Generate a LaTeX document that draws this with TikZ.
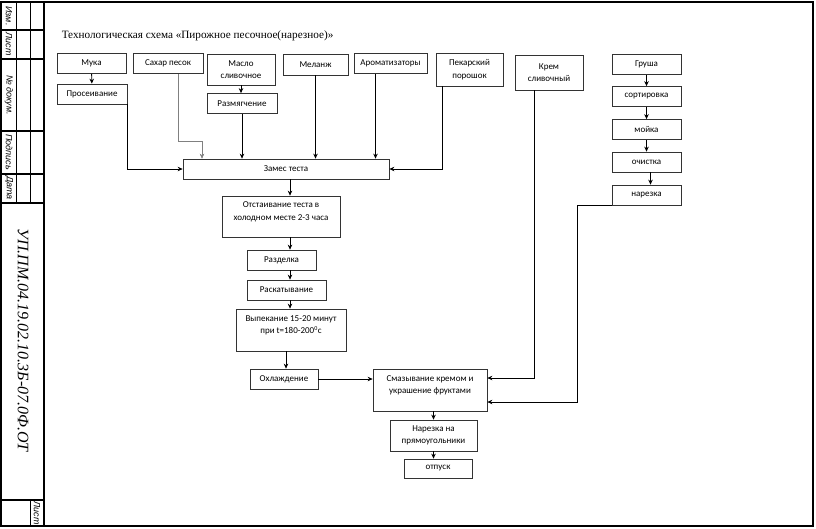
\documentclass[tikz,border=0pt]{standalone}
\usepackage{fontspec}
\setmainfont{Liberation Serif}
\newfontfamily\boxfont{Carlito}
\newfontfamily\framefont{Liberation Sans}
\usetikzlibrary{arrows.meta, calc}

\begin{document}
\begin{tikzpicture}[x=1pt, y=-1pt, ->, >={Stealth[length=5pt, width=4.5pt]}, line width=0.9pt, font=\boxfont\fontsize{9}{12.5}\selectfont]
    \tikzstyle{block}=[draw=black!80, line width=0.7pt, rectangle, align=center, inner sep=1pt, minimum width=69, minimum height=20]
    \tikzstyle{frame}=[draw=black, line width=1.6pt]
    \tikzstyle{cell}=[rotate=-90, font=\framefont\itshape\fontsize{9}{10}\selectfont]

    \useasboundingbox (0,0) rectangle (816,528);

    % frame and side strip
    \draw[-, frame] (1,2) rectangle (813,526);
    \draw[-, frame] (44,2) -- (44,526);
    \draw[-, frame] (1,30) -- (44,30) (1,59) -- (44,59) (1,131) -- (44,131) (1,174) -- (44,174) (1,203) -- (44,203) (1,500) -- (44,500);
    \draw[-, line width=0.6pt] (16,2) -- (16,203) (30,2) -- (30,203) (30,500) -- (30,526);

    \node[cell] (izm) at (9,16) {Изм.};
    \node[cell] (list) at (9,44) {Лист};
    \node[cell] (ndoc) at (9,95) {№ докум.};
    \node[cell] (podp) at (9,152) {Подпись};
    \node[cell] (data) at (9,188) {Дата};
    \node[cell] (listb) at (37,513) {Лист};
    \node[rotate=-90, font=\itshape\fontsize{16}{18}\selectfont] (code) at (23,340) {УП.ПМ.04.19.02.10.3Б-07.0Ф.ОТ};

    \node[anchor=west, font=\fontsize{11.2}{13}\selectfont] (title) at (58,36) {Технологическая схема «Пирожное песочное(нарезное)»};

    % ingredients
    \node[block] (muka) at (91.5,63.5) {Мука};
    \node[block, minimum width=70] (pros) at (92,94) {Просеивание};
    \node[block, minimum width=70] (sahar) at (168,63.5) {Сахар песок};
    \node[block, minimum width=68, minimum height=31] (maslo) at (241,69.5) {Масло\\сливочное};
    \node[block, minimum width=70] (razm) at (242,103.5) {Размягчение};
    \node[block, minimum width=65, minimum height=21] (melanzh) at (315.5,64.5) {Меланж};
    \node[block, minimum width=73] (arom) at (390.5,63.5) {Ароматизаторы};
    \node[block, minimum width=67, minimum height=33] (pek) at (469.5,69.5) {Пекарский\\порошок};
    \node[block, minimum width=68, minimum height=35] (krem) at (549,72.5) {Крем\\сливочный};

    % pear
    \node[block] (grusha) at (646.5,64.5) {Груша};
    \node[block] (sort) at (646.5,96.5) {сортировка};
    \node[block] (moika) at (646.5,129.5) {мойка};
    \node[block] (ochist) at (646.5,162) {очистка};
    \node[block] (narez) at (646.5,195) {нарезка};

    % main line
    \node[block, minimum width=206] (zames) at (286,169) {Замес теста};
    \node[block, minimum width=118, minimum height=41] (otst) at (281,216.5) {Отстаивание теста в\\холодном месте 2-3 часа\\[-2pt]\mbox{}};
    \node[block] (razd) at (281.5,260) {Разделка};
    \node[block, minimum width=79] (raskat) at (286.5,290) {Раскатывание};
    \node[block, minimum width=110, minimum height=42] (vypek) at (291,330) {Выпекание 15-20 минут\\при t=180-200\textsuperscript{0}c\\[-2pt]\mbox{}};
    \node[block, minimum width=68] (ohl) at (284,379) {Охлаждение};
    \node[block, minimum width=114, minimum height=42] (smaz) at (430,390) {Смазывание кремом и\\украшение фруктами\\[-2pt]\mbox{}};
    \node[block, minimum width=87, minimum height=31] (narpr) at (433.5,435.5) {Нарезка на\\прямоугольники};
    \node[block, minimum width=68, minimum height=19] (otpusk) at (438,468.5) {отпуск};

    \coordinate (col) at (290,0);
    \coordinate (colb) at (286,0);
    \coordinate (aromout) at ([xshift=-15pt]arom.south);
    \coordinate (pekout) at ([xshift=7pt]pek.south west);
    \coordinate (kremout) at ([xshift=-15pt]krem.south);
    \coordinate (ochout) at ([xshift=4pt]ochist.south);

    \draw (muka) -- (pros);
    \draw (maslo.south) -- (maslo.south |- razm.north);
    \draw (pros.south east) |- (zames.west);
    \draw[line width=0.4pt, gray] ([xshift=10pt]sahar.south) -- ++(0,67) -| ([xshift=-84pt]zames.north);
    \draw (razm.south) -- (razm.south |- zames.north);
    \draw (melanzh.south) -- (melanzh.south |- zames.north);
    \draw (aromout) -- (aromout |- zames.north);
    \draw (pekout) |- (zames.east);

    \draw (col |- zames.south) -- (col |- otst.north);
    \draw (col |- otst.south) -- (col |- razd.north);
    \draw (col |- razd.south) -- (col |- raskat.north);
    \draw (col |- raskat.south) -- (col |- vypek.north);
    \draw (colb |- vypek.south) -- (colb |- ohl.north);
    \draw (ohl.east) -- (smaz.west |- ohl.east);
    \draw (narpr.north |- smaz.south) -- (narpr.north);
    \draw (narpr.south) -- (narpr.south |- otpusk.north);

    \draw (grusha) -- (sort);
    \draw (sort) -- (moika);
    \draw (moika) -- (ochist);
    \draw (ochout) -- (ochout |- narez.north);

    \draw (kremout) |- ([yshift=12pt]smaz.east);
    \draw (narez.south west) -- ++(-34,0) |- ([yshift=-12pt]smaz.east);
\end{tikzpicture}
\end{document}
